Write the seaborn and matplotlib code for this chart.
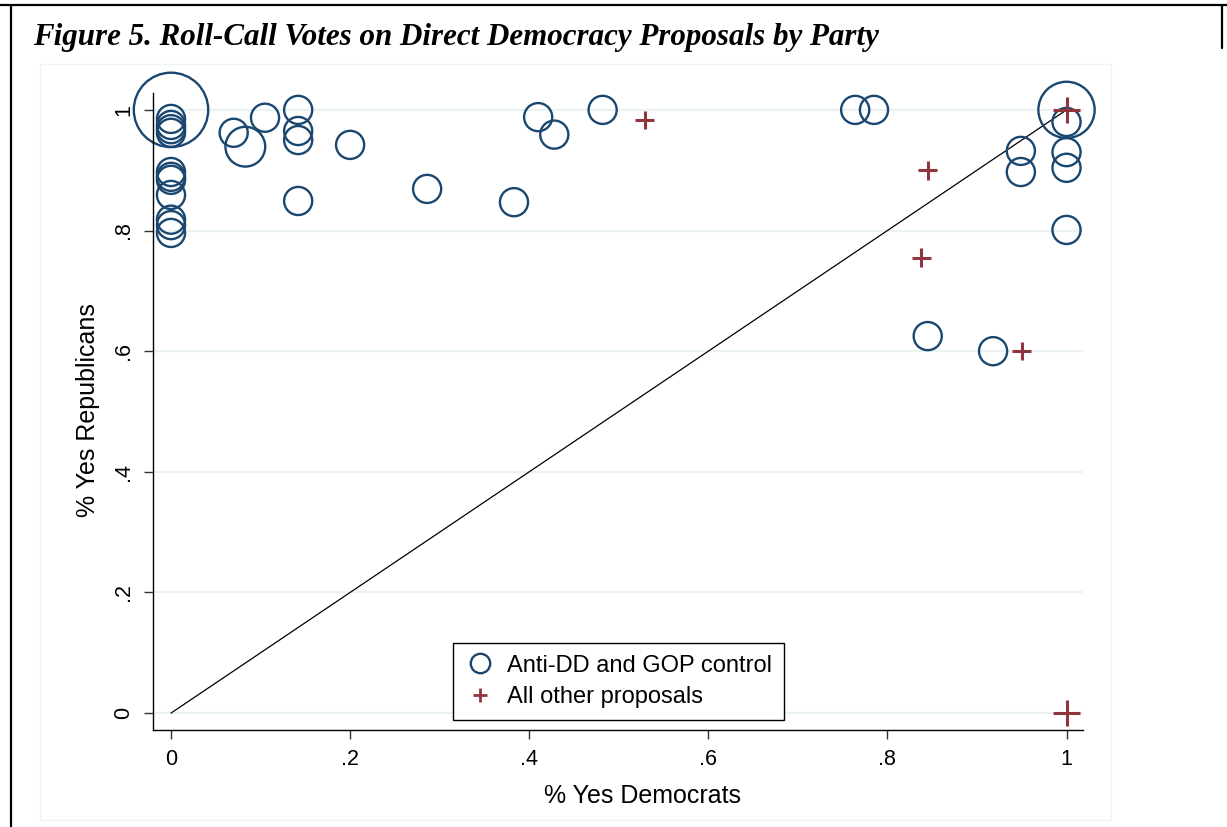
import pandas as pd
import seaborn as sns
import matplotlib.pyplot as plt
from matplotlib.lines import Line2D

# Anti-DD and GOP control proposals (share yes among Democrats / Republicans, count of votes)
circle_dem = [0, 0, 0, 0, 0, 0, 0, 0, 0, 0, 0, 0,
              0.070, 0.083, 0.105, 0.142, 0.142, 0.142, 0.142, 0.200, 0.286,
              0.383, 0.410, 0.428, 0.482, 0.764, 0.785, 0.845, 0.918,
              0.949, 0.949, 1, 1, 1, 1, 1]
circle_rep = [1, 0.985, 0.975, 0.968, 0.962, 0.897, 0.889, 0.884, 0.859, 0.818, 0.809, 0.796,
              0.962, 0.939, 0.987, 1.0, 0.965, 0.950, 0.849, 0.942, 0.869,
              0.847, 0.988, 0.959, 1.0, 1.0, 1.0, 0.625, 0.600,
              0.932, 0.897, 1, 0.980, 0.930, 0.904, 0.801]
circle_n = [7, 1, 1, 1, 1, 1, 1, 1, 1, 1, 1, 1,
            1, 2, 1, 1, 1, 1, 1, 1, 1,
            1, 1, 1, 1, 1, 1, 1, 1,
            1, 1, 4, 1, 1, 1, 1]

# All other proposals
plus_dem = [0.529, 0.845, 0.838, 0.950, 1, 1]
plus_rep = [0.983, 0.900, 0.755, 0.600, 1, 0]
plus_n = [1, 1, 1, 1, 2, 2]

diag = [0, 1]
ticks = [0, 0.2, 0.4, 0.6, 0.8, 1]
tick_labels = ["0", ".2", ".4", ".6", ".8", "1"]

navy = "#1A476F"
maroon = "#90353B"
grid_col = "#EAF2F3"

circles = pd.DataFrame({"dem": circle_dem, "rep": circle_rep, "n": circle_n})
pluses = pd.DataFrame({"dem": plus_dem, "rep": plus_rep, "n": plus_n})

sns.set_style("ticks")
plt.rcParams["font.family"] = ["Liberation Sans", "DejaVu Sans"]
plt.rcParams["text.color"] = "black"
plt.rcParams["axes.labelcolor"] = "black"
plt.rcParams["xtick.labelcolor"] = "black"
plt.rcParams["ytick.labelcolor"] = "black"

fig = plt.figure(figsize=(12.27, 8.27), dpi=100)
ax = fig.add_axes([153 / 1227, 97 / 827, 930 / 1227, 637 / 827])

for yv in ticks:
    ax.axhline(yv, color=grid_col, lw=1.6, zorder=0)

sns.lineplot(x=diag, y=diag, color="black", lw=0.9, ax=ax, zorder=1)

sns.scatterplot(
    data=circles, x="dem", y="rep", size="n",
    sizes={w: 410 * w for w in circles["n"].unique()},
    marker="o", color=navy, facecolor="none", edgecolor=navy,
    linewidth=1.7, legend=False, ax=ax, zorder=2, clip_on=False,
)
sns.scatterplot(
    data=pluses, x="dem", y="rep", size="n",
    sizes={w: 180 * w for w in pluses["n"].unique()},
    marker="+", color=maroon, linewidth=2.2, legend=False, ax=ax, zorder=3,
    clip_on=False,
)

ax.set_xlim(-0.0201, 1.0184)
ax.set_ylim(-0.028, 1.028)
ax.set_xticks(ticks)
ax.set_xticklabels(tick_labels)
ax.set_yticks(ticks)
ax.set_yticklabels(tick_labels, rotation=90, va="center")
ax.tick_params(axis="both", length=6.5, width=1, color="#333333",
               labelsize=15.5, pad=7, direction="out")
for side in ["top", "right"]:
    ax.spines[side].set_visible(False)
for side in ["left", "bottom"]:
    ax.spines[side].set_color("black")
    ax.spines[side].set_linewidth(1)

ax.set_xlabel("% Yes Democrats", fontsize=18)
ax.set_ylabel("% Yes Republicans", fontsize=18)
ax.xaxis.set_label_coords((642 - 153) / 930, -(796 - 730) / 637)
ax.yaxis.set_label_coords(-(153 - 88) / 930, (730 - 410) / 637)
ax.xaxis.label.set_va("center")
ax.yaxis.label.set_va("center")

handles = [
    Line2D([], [], marker="o", ls="", mfc="none", mec=navy, mew=1.7, ms=14),
    Line2D([], [], marker="+", ls="", color=maroon, mew=2, ms=10),
]
leg = ax.legend(handles, ["Anti-DD and GOP control", "All other proposals"],
                loc="lower left", bbox_to_anchor=(0.3226, 0.0157), fontsize=17,
                frameon=True, fancybox=False, framealpha=1, edgecolor="black",
                handletextpad=0.5, borderpad=0.5, labelspacing=0.4,
                handlelength=1.3, borderaxespad=0)
leg.get_frame().set_linewidth(1)

# faint outer graph region and document border
fig.add_artist(plt.Rectangle((40 / 1227, 7 / 827), 1071 / 1227, 756 / 827,
                             transform=fig.transFigure, fill=False,
                             edgecolor="#EEF3F4", lw=1))
fig.add_artist(Line2D([0, 1], [1 - 5 / 827] * 2, color="black", lw=1.6,
                      transform=fig.transFigure))
fig.add_artist(Line2D([11 / 1227] * 2, [0, 1 - 5 / 827], color="black", lw=1.6,
                      transform=fig.transFigure))
fig.add_artist(Line2D([1222 / 1227] * 2, [1 - 5 / 827, 1 - 48 / 827], color="black",
                      lw=1.6, transform=fig.transFigure))

fig.text(33 / 1227, 1 - 37 / 827,
         "Figure 5. Roll-Call Votes on Direct Democracy Proposals by Party",
         family="Liberation Serif", style="italic", weight="bold",
         fontsize=22.3, va="center", ha="left")

fig.savefig("out.png", dpi=100)
